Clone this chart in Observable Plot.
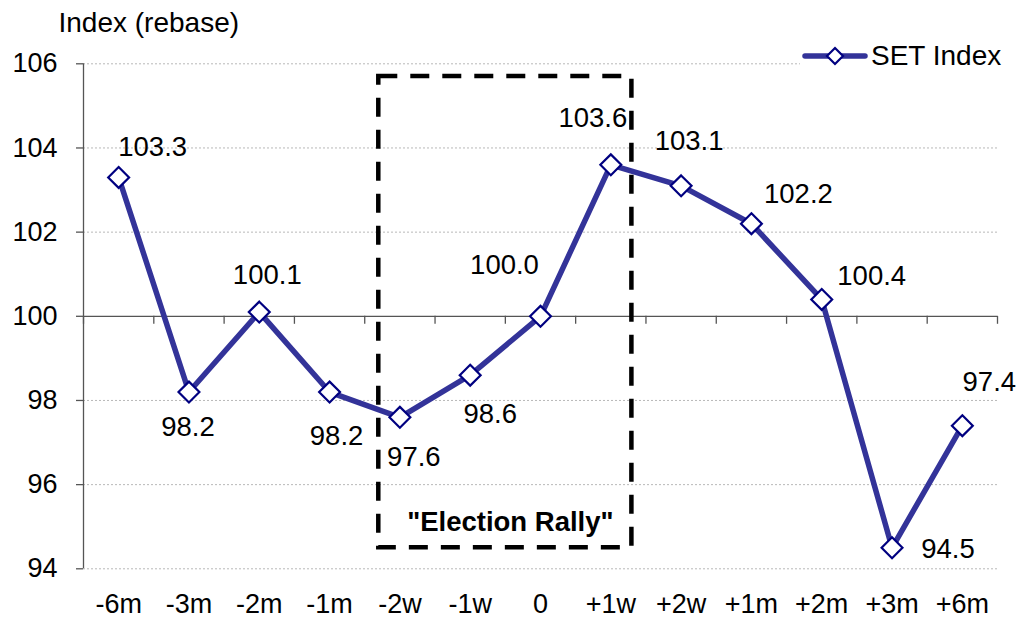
<!DOCTYPE html>
<html>
<head>
<meta charset="utf-8">
<script src="https://cdn.jsdelivr.net/npm/d3@7"></script>
<script src="https://cdn.jsdelivr.net/npm/@observablehq/plot@0.6"></script>
<style>
  body { margin: 0; background: #fff; font-family: "Liberation Sans", Arial, sans-serif; }
  #wrap { position: relative; width: 1029px; height: 617px; }
  #legend { position: absolute; left: 800px; top: 40px; height: 32px; width: 215px; background: #fff; }
  #legend svg { position: absolute; left: 0; top: 0; }
  #legend span { position: absolute; left: 71px; top: 0; line-height: 32px; font-size: 28px; color: #000; white-space: nowrap; }
</style>
</head>
<body>
<div id="wrap"></div>
<script>
// ---- data ----
const categories = ["-6m", "-3m", "-2m", "-1m", "-2w", "-1w", "0", "+1w", "+2w", "+1m", "+2m", "+3m", "+6m"];
const values = [103.3, 98.2, 100.1, 98.2, 97.6, 98.6, 100.0, 103.6, 103.1, 102.2, 100.4, 94.5, 97.4];
const yTicks = [94, 96, 98, 100, 102, 104, 106];
const seriesName = "SET Index";
const yTitle = "Index (rebase)";
const rallyText = "\"Election Rally\"";
const rallyX = [3.7, 7.3];     // box span in category-index units
const rallyY = [94.5, 105.7];  // box span in index units
const rallyTextY = 95.1;

// label placement (pixel offsets from each point; styling only)
const labelOffsets = [[34, -30], [-1, 35], [8, -37], [7, 44], [14, 40], [20, 39], [-36, -51],
                      [-18, -47], [8, -45], [47, -30], [50, -23], [56, 1], [27, -44]];

const data = categories.map((c, i) => ({i, c, v: values[i]}));
const boundaries = d3.range(categories.length + 1).map(k => k - 0.5);

const lineColor = "#333399";
const markerColor = "#000080";
const axisColor = "#555";
const font = 27;

const labelMarks = data.map((d, k) => Plot.text([d], {
  x: "i", y: "v", text: r => r.v.toFixed(1),
  dx: labelOffsets[k][0], dy: labelOffsets[k][1],
  textAnchor: "middle", lineAnchor: "middle", fontSize: 27.5, fill: "#000"
}));

const chart = Plot.plot({
  width: 1029,
  height: 617,
  marginLeft: 83,
  marginRight: 32,
  marginTop: 63.3,
  marginBottom: 48.7,
  style: {fontFamily: "'Liberation Sans', Arial, sans-serif", fontSize: font + "px", background: "#fff", overflow: "visible"},
  x: {type: "linear", domain: [-0.5, categories.length - 0.5]},
  y: {domain: [yTicks[0], yTicks[yTicks.length - 1]]},
  marks: [
    Plot.gridY(yTicks.filter(t => t !== 100), {stroke: "#b8b8b8", strokeOpacity: 1, strokeWidth: 1, strokeDasharray: "2,2"}),
    Plot.ruleY([100], {stroke: axisColor, strokeWidth: 1.3}),
    Plot.ruleX(boundaries, {x: d => d, y1: 100, y2: 100, insetTop: 8, stroke: axisColor, strokeWidth: 1.3}),
    Plot.ruleX([-0.5], {stroke: axisColor, strokeWidth: 1.3}),
    Plot.axisY(yTicks, {tickSize: 7, tickPadding: 19, fontSize: font, stroke: axisColor, strokeWidth: 1.3, fill: "#000", label: null}),
    Plot.axisX(d3.range(categories.length), {tickFormat: i => categories[i], tickSize: 0, tickPadding: 25, fontSize: font, fill: "#000", label: null}),
    Plot.rect([{x1: rallyX[0], x2: rallyX[1], y1: rallyY[0], y2: rallyY[1]}], {
      x1: "x1", x2: "x2", y1: "y1", y2: "y2",
      fill: "none", stroke: "#000", strokeWidth: 4.5, strokeDasharray: "19,13"
    }),
    Plot.text([rallyText], {x: (rallyX[0] + rallyX[1]) / 2, y: rallyTextY, text: d => d, dx: 5,
      fontSize: 27.5, fontWeight: "bold", fill: "#000", lineAnchor: "middle"}),
    Plot.line(data, {x: "i", y: "v", stroke: lineColor, strokeWidth: 5.5}),
    Plot.dot(data, {x: "i", y: "v", symbol: "diamond2", r: 9.4, fill: "#fff", stroke: markerColor, strokeWidth: 2.2}),
    ...labelMarks,
    Plot.text([yTitle], {frameAnchor: "top-left", text: d => d, dx: -25, dy: -41,
      textAnchor: "start", lineAnchor: "middle", fontSize: 28, fill: "#000"})
  ]
});

const wrap = document.getElementById("wrap");
wrap.appendChild(chart);

// legend overlay
const legend = document.createElement("div");
legend.id = "legend";
legend.innerHTML = `<svg width="72" height="32" viewBox="0 0 72 32">
  <line x1="5" y1="16" x2="65" y2="16" stroke="${lineColor}" stroke-width="5.5" stroke-linecap="round"/>
  <path d="M35,8 L43,16 L35,24 L27,16 Z" fill="#fff" stroke="${markerColor}" stroke-width="2.2"/>
</svg><span>${seriesName}</span>`;
wrap.appendChild(legend);
</script>
</body>
</html>
